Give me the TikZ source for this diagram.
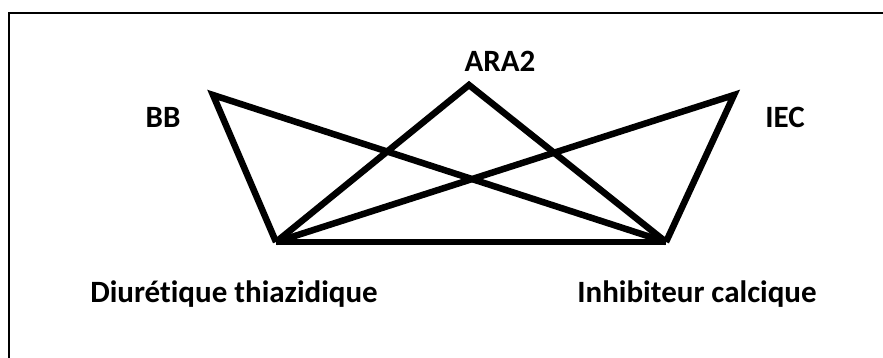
\documentclass[tikz,border=0pt]{standalone}
\usepackage{fontspec}
\setmainfont{Carlito}[Ligatures=NoCommon]
\begin{document}
\begin{tikzpicture}[x=1pt,y=-1pt,
  lbl/.style={font=\bfseries\fontsize{31}{35}\selectfont, inner sep=0pt, anchor=base},
  edge/.style={line width=6.5pt, line join=miter}]
\useasboundingbox (0,0) rectangle (883,358);
\begin{scope}
\clip (0,0) rectangle (883,358);
\draw[line width=1.8pt] (9,13) rectangle (900,380);
\end{scope}
\coordinate (bb) at (213,95);
\coordinate (ara) at (469,85);
\coordinate (iec) at (734,95);
\coordinate (d) at (276,242);
\coordinate (i) at (666,242);
\draw[edge] (d) -- (bb) -- (i);
\draw[edge] (d) -- (ara) -- (i);
\draw[edge] (d) -- (iec) -- (i);
\draw[edge] (d) -- (i);
\node[lbl] (tbb) at (163,128) {BB};
\node[lbl] (tiec) at (785,128) {IEC};
\node[lbl] (tara) at (500,72) {ARA2};
\node[lbl] (td) at (234,302) {Diurétique thiazidique};
\node[lbl] (ti) at (697,302) {Inhibiteur calcique};
\end{tikzpicture}
\end{document}
